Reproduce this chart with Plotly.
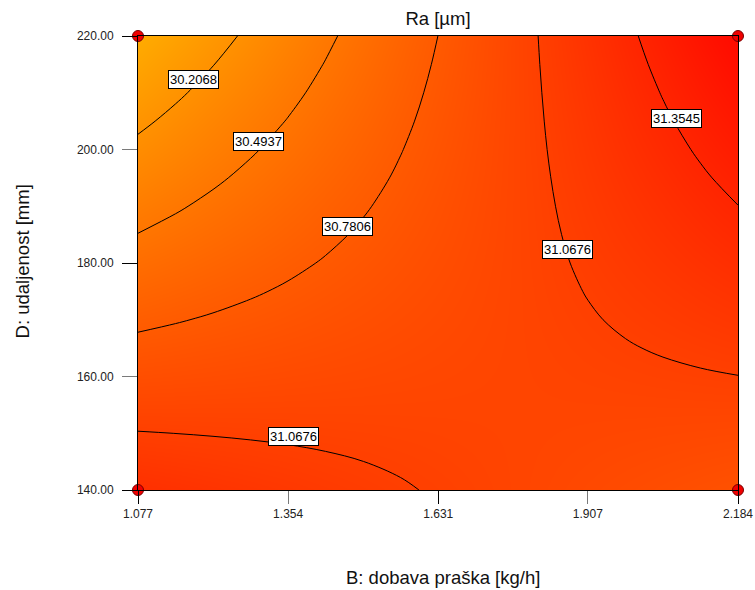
import plotly.graph_objects as go

# ---- data ----
# B: dobava praška [kg/h]
B_VALUES = [1.0770, 1.1462, 1.2154, 1.2846, 1.3538, 1.4229, 1.4921, 1.5613, 1.6305,
            1.6997, 1.7689, 1.8381, 1.9073, 1.9764, 2.0456, 2.1148, 2.1840]
# D: udaljenost [mm]
D_VALUES = [140, 145, 150, 155, 160, 165, 170, 175, 180, 185, 190, 195, 200, 205, 210, 215, 220]

# Ra [µm] read over the B x D grid (one row per D value)
RA_D140 = [31.2380, 31.2153, 31.1925, 31.1698, 31.1470, 31.1243, 31.1015, 31.0788, 31.0560, 31.0333, 31.0105, 30.9878, 30.9650, 30.9423, 30.9195, 30.8968, 30.8740]
RA_D145 = [31.1557, 31.1411, 31.1265, 31.1119, 31.0973, 31.0826, 31.0680, 31.0534, 31.0388, 31.0242, 31.0096, 30.9950, 30.9804, 30.9657, 30.9511, 30.9365, 30.9219]
RA_D150 = [31.0735, 31.0670, 31.0605, 31.0540, 31.0476, 31.0411, 31.0346, 31.0281, 31.0216, 31.0151, 31.0086, 31.0021, 30.9957, 30.9892, 30.9827, 30.9762, 30.9697]
RA_D155 = [30.9912, 30.9929, 30.9945, 30.9962, 30.9978, 30.9995, 31.0011, 31.0028, 31.0044, 31.0061, 31.0077, 31.0094, 31.0110, 31.0127, 31.0143, 31.0160, 31.0176]
RA_D160 = [30.9090, 30.9188, 30.9286, 30.9384, 30.9482, 30.9579, 30.9677, 30.9775, 30.9873, 30.9971, 31.0069, 31.0167, 31.0265, 31.0362, 31.0460, 31.0558, 31.0656]
RA_D165 = [30.8268, 30.8447, 30.8626, 30.8805, 30.8984, 30.9164, 30.9343, 30.9522, 30.9701, 30.9880, 31.0059, 31.0238, 31.0417, 31.0597, 31.0776, 31.0955, 31.1134]
RA_D170 = [30.7445, 30.7706, 30.7966, 30.8227, 30.8487, 30.8748, 30.9008, 30.9269, 30.9529, 30.9790, 31.0050, 31.0311, 31.0571, 31.0832, 31.1092, 31.1353, 31.1613]
RA_D175 = [30.6623, 30.6965, 30.7306, 30.7648, 30.7990, 30.8332, 30.8674, 30.9015, 30.9357, 30.9699, 31.0041, 31.0383, 31.0724, 31.1066, 31.1408, 31.1750, 31.2091]
RA_D180 = [30.5800, 30.6223, 30.6646, 30.7070, 30.7493, 30.7916, 30.8339, 30.8762, 30.9185, 30.9608, 31.0031, 31.0454, 31.0878, 31.1301, 31.1724, 31.2147, 31.2570]
RA_D185 = [30.4977, 30.5482, 30.5986, 30.6491, 30.6995, 30.7500, 30.8004, 30.8509, 30.9013, 30.9518, 31.0022, 31.0527, 31.1031, 31.1536, 31.2040, 31.2545, 31.3049]
RA_D190 = [30.4155, 30.4741, 30.5327, 30.5912, 30.6498, 30.7084, 30.7670, 30.8255, 30.8841, 30.9427, 31.0013, 31.0598, 31.1184, 31.1770, 31.2356, 31.2941, 31.3527]
RA_D195 = [30.3332, 30.3999, 30.4666, 30.5333, 30.6001, 30.6668, 30.7335, 30.8002, 30.8669, 30.9336, 31.0003, 31.0670, 31.1338, 31.2005, 31.2672, 31.3339, 31.4006]
RA_D200 = [30.2510, 30.3259, 30.4007, 30.4756, 30.5504, 30.6253, 30.7001, 30.7750, 30.8498, 30.9247, 30.9995, 31.0744, 31.1492, 31.2241, 31.2989, 31.3738, 31.4486]
RA_D205 = [30.1688, 30.2518, 30.3347, 30.4177, 30.5007, 30.5837, 30.6667, 30.7496, 30.8326, 30.9156, 30.9986, 31.0815, 31.1645, 31.2475, 31.3305, 31.4134, 31.4964]
RA_D210 = [30.0865, 30.1776, 30.2687, 30.3598, 30.4510, 30.5421, 30.6332, 30.7243, 30.8154, 30.9065, 30.9976, 31.0887, 31.1799, 31.2710, 31.3621, 31.4532, 31.5443]
RA_D215 = [30.0043, 30.1035, 30.2028, 30.3020, 30.4013, 30.5005, 30.5997, 30.6990, 30.7982, 30.8974, 30.9967, 31.0959, 31.1952, 31.2944, 31.3936, 31.4929, 31.5921]
RA_D220 = [29.9220, 30.0294, 30.1368, 30.2441, 30.3515, 30.4589, 30.5663, 30.6736, 30.7810, 30.8884, 30.9958, 31.1031, 31.2105, 31.3179, 31.4253, 31.5326, 31.6400]

CONTOUR_START = 30.2068
CONTOUR_END = 31.3545
CONTOUR_STEP = 0.28693

LABEL_TEXT = ["30.2068", "30.4937", "30.7806", "31.0676", "31.3545", "31.0676"]
LABEL_B = [1.1785, 1.300, 1.464, 1.869, 2.071, 1.3636]
LABEL_D = [212.4, 201.4, 186.5, 182.4, 205.4, 149.5]

DESIGN_B = [1.077, 1.077, 2.184, 2.184]
DESIGN_D = [140, 220, 140, 220]

B_TICKS = [1.077, 1.354, 1.631, 1.907, 2.184]
B_TICK_TEXT = ["1.077", "1.354", "1.631", "1.907", "2.184"]
B_TICKS_DARK = [1.077, 1.631, 2.184]
D_TICKS = [140, 160, 180, 200, 220]
D_TICK_TEXT = ["140.00", "160.00", "180.00", "200.00", "220.00"]
D_TICKS_DARK = [140, 180, 220]

TITLE = "Ra [µm]"
X_TITLE = "B: dobava praška [kg/h]"
Y_TITLE = "D: udaljenost [mm]"

# ---- figure ----
z = [RA_D140, RA_D145, RA_D150, RA_D155, RA_D160, RA_D165, RA_D170, RA_D175, RA_D180,
     RA_D185, RA_D190, RA_D195, RA_D200, RA_D205, RA_D210, RA_D215, RA_D220]
FONT = "Arial, Liberation Sans, sans-serif"

fig = go.Figure()
fig.add_trace(go.Contour(
    x=B_VALUES, y=D_VALUES, z=z,
    colorscale=[[0, "rgb(255,172,0)"], [0.5, "rgb(255,90,0)"], [1, "rgb(255,10,0)"]],
    zmin=min(min(r) for r in z), zmax=max(max(r) for r in z),
    contours=dict(start=CONTOUR_START, end=CONTOUR_END + 0.001, size=CONTOUR_STEP,
                  coloring="heatmap", showlabels=False),
    line=dict(color="black", width=1, smoothing=1),
    showscale=False, hoverinfo="skip",
))
fig.add_trace(go.Scatter(
    x=DESIGN_B, y=DESIGN_D, mode="markers", xaxis="x2", yaxis="y2",
    marker=dict(symbol="circle", size=11, color="rgb(240,0,0)",
                line=dict(color="rgb(120,0,0)", width=1)),
    cliponaxis=False, showlegend=False, hoverinfo="skip",
))

for t, bx, dy in zip(LABEL_TEXT, LABEL_B, LABEL_D):
    fig.add_annotation(x=bx, y=dy, xref="x", yref="y", text=t, showarrow=False,
                       bgcolor="white", bordercolor="black", borderwidth=1, borderpad=1,
                       font=dict(family=FONT, size=13, color="black"))

fig.add_annotation(x=0.508, y=-0.192, xref="paper", yref="paper", text=X_TITLE,
                   showarrow=False, xanchor="center", yanchor="middle",
                   font=dict(family=FONT, size=18.5, color="#111"))
fig.add_annotation(x=-0.192, y=0.503, xref="paper", yref="paper", text=Y_TITLE,
                   showarrow=False, textangle=-90, xanchor="center", yanchor="middle",
                   font=dict(family=FONT, size=18.5, color="#111"))

xr = [B_VALUES[0], B_VALUES[-1]]
yr = [D_VALUES[0], D_VALUES[-1]]
fig.update_layout(
    width=755, height=590,
    margin=dict(l=138, r=17, t=36, b=100, autoexpand=False),
    paper_bgcolor="white", plot_bgcolor="white",
    showlegend=False,
    title=dict(text=TITLE, x=0.5, xref="paper", xanchor="center",
               y=1 - 19 / 590, yref="container", yanchor="middle",
               font=dict(family=FONT, size=18.5, color="#111")),
    xaxis=dict(range=xr, tickvals=B_TICKS, ticktext=B_TICK_TEXT, ticks="outside",
               ticklen=13, tickcolor="#7a7a7a", tickwidth=1, automargin=False,
               showline=True, linecolor="black", linewidth=1, mirror=True,
               showgrid=False, zeroline=False,
               tickfont=dict(family=FONT, size=12, color="#222")),
    yaxis=dict(range=yr, tickvals=D_TICKS, ticktext=D_TICK_TEXT, ticks="outside",
               ticklen=15, tickcolor="#7a7a7a", tickwidth=1, automargin=False,
               showline=True, linecolor="black", linewidth=1, mirror=True,
               showgrid=False, zeroline=False, ticklabelstandoff=6,
               tickfont=dict(family=FONT, size=12, color="#222")),
    xaxis2=dict(range=xr, overlaying="x", anchor="y2", side="bottom", automargin=False,
                tickvals=B_TICKS_DARK, ticks="outside", ticklen=13, tickcolor="black",
                showticklabels=False, showline=False, showgrid=False, zeroline=False),
    yaxis2=dict(range=yr, overlaying="y", anchor="x2", side="left", automargin=False,
                tickvals=D_TICKS_DARK, ticks="outside", ticklen=15, tickcolor="black",
                showticklabels=False, showline=False, showgrid=False, zeroline=False),
)

fig.write_html("out.html", config={"displayModeBar": False},
               post_script="document.body.style.margin='0';document.body.style.overflow='hidden';")
